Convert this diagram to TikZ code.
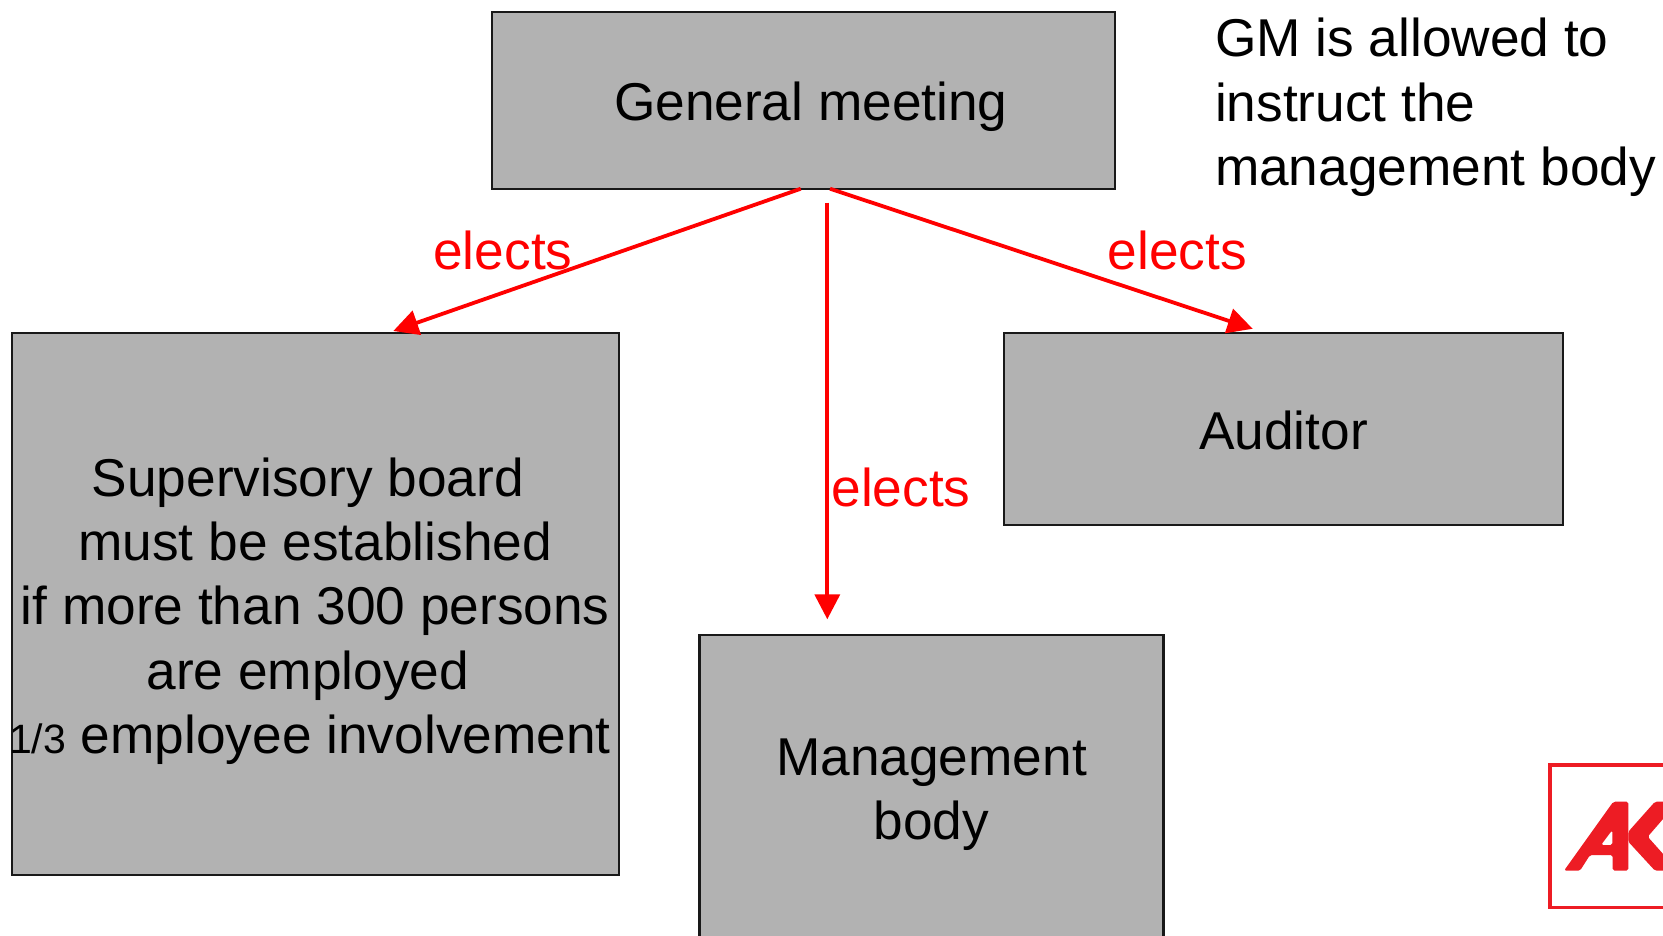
\documentclass[tikz,border=0pt]{standalone}
\usepackage{fontspec}
\setmainfont{Liberation Sans}
\usetikzlibrary{arrows.meta}
\definecolor{boxgray}{HTML}{B2B2B2}
\definecolor{akred}{HTML}{ED1C24}
\newcommand\toppad[1]{\rule{0pt}{#1}}
\tikzset{
  x=1pt,y=-1pt,
  box/.style={draw=black!90,line width=2.2pt,fill=boxgray,inner sep=0pt,outer sep=0pt,align=center,font=\fontsize{53.25}{64.3}\selectfont},
  arr/.style={draw=red,line width=3.8pt,-{Triangle[length=25pt,width=25pt]}},
  lab/.style={text=red,anchor=base,inner sep=0pt,font=\fontsize{53.25}{64.3}\selectfont},
  note/.style={anchor=north west,inner sep=0pt,align=left,font=\fontsize{53.25}{64.3}\selectfont}
}
\begin{document}
\begin{tikzpicture}
\useasboundingbox (0,0) rectangle (1663,936);
\fill[white] (0,0) rectangle (1663,936);
\node[box,minimum width=623.4pt,minimum height=177pt] (gm) at (803.5,100.25) {\toppad{51.6pt}\hspace*{14.7pt}General meeting};
\node[box,align=flush center,text width=607pt,minimum width=607pt,minimum height=542pt] (sup) at (315.2,604) {\toppad{52.6pt}\mbox{Supervisory board\hspace{14.7pt}}\\must be established\\if more than 300 persons\\\mbox{are employed\hspace{14.7pt}}\\\makebox[607pt][c]{{\fontsize{41}{64.3}\selectfont 1/3} employee involvement\hspace{10.5pt}}};
\node[box,minimum width=559.5pt,minimum height=192pt] (aud) at (1283.5,429) {\toppad{41pt}Auditor};
\node[box,line width=2.6pt,minimum width=464pt,minimum height=310pt] (mgmt) at (931.5,790) {\toppad{45.4pt}Management\\body};
\node[lab] (e1) at (502.9,269.5) {elects};
\node[lab] (e2) at (1177.4,269.5) {elects};
\node[lab] (e3) at (901,506) {elects};
\node[note] (gmnote) at (1214.8,18) {GM is allowed to\\instruct the\\management body};
\coordinate (gmL) at ([xshift=-2.8pt]gm.south);
\coordinate (gmR) at ([xshift=26.5pt]gm.south);
\coordinate (gmC) at ([xshift=23.8pt,yshift=-14pt]gm.south);
\coordinate (supT) at ([xshift=78.1pt,yshift=2pt]sup.north);
\coordinate (audT) at ([xshift=-30.8pt,yshift=4.2pt]aud.north);
\coordinate (mgmtT) at ([xshift=-104.2pt,yshift=15.7pt]mgmt.north);
\draw[arr] (gmL) -- (supT);
\draw[arr] (gmR) -- (audT);
\draw[arr] (gmC) -- (mgmtT);
% logo
\begin{scope}
\clip (0,0) rectangle (1663,936);
\draw[akred,line width=3.2pt] (1700,765) -- (1550,765) -- (1550,907.5) -- (1700,907.5);
\fill[akred,even odd rule,rounded corners=1.8pt]
  (1564,870.7) -- (1613.3,801.7) -- (1628.3,801.7) -- (1628.3,870.7) -- (1612.7,870.7) -- (1612.7,855) -- (1590,855) -- (1580,870.7) -- cycle
  (1612.3,830) -- (1601,845) -- (1612.3,845) -- cycle;
\fill[akred,rounded corners=1.8pt]
  (1628.3,831.7) -- (1655,801.7) -- (1678,801.7) -- (1647.7,836.7) -- (1678,870.7) -- (1655,870.7) -- (1628.3,841.7) -- cycle;
\end{scope}
\end{tikzpicture}
\end{document}
